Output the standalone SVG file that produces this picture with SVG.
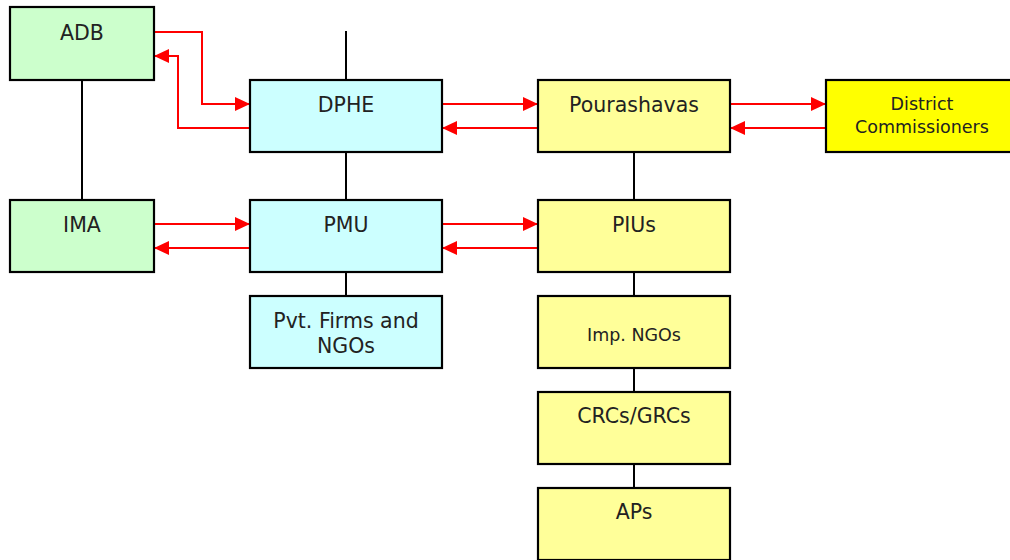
<svg xmlns="http://www.w3.org/2000/svg" width="1010" height="560" viewBox="0 0 1010 560">
<style>
.box{stroke:#000;stroke-width:2.2}
.g{fill:#CCFFCC}.c{fill:#CCFFFF}.y{fill:#FFFF99}.yy{fill:#FFFF00}
.t{font-family:"DejaVu Sans","Liberation Sans",sans-serif;font-size:20.5px;fill:#222;text-anchor:middle}
.s{font-size:17.5px}
.m{font-size:17.5px}
.k{stroke:#000;stroke-width:2;fill:none}
.r{stroke:#FF0000;stroke-width:2;fill:none;marker-end:url(#ah)}
</style>
<defs>
<marker id="ah" markerWidth="15" markerHeight="14" refX="15" refY="7" orient="auto" markerUnits="userSpaceOnUse">
<path d="M0,0 L15,7 L0,14 Z" fill="#FF0000"/>
</marker>
</defs>
<g id="connectors">
<path class="k" d="M346,31 V80"/>
<path class="k" d="M82,80 V200"/>
<path class="k" d="M346,152 V200"/>
<path class="k" d="M346,272 V296"/>
<path class="k" d="M634,152 V200"/>
<path class="k" d="M634,272 V296"/>
<path class="k" d="M634,368 V392"/>
<path class="k" d="M634,464 V488"/>
<path class="r" d="M154,32 H202 V104 H250"/>
<path class="r" d="M250,128 H178 V56 H154"/>
<path class="r" d="M442,104 H538"/>
<path class="r" d="M538,128 H442"/>
<path class="r" d="M730,104 H826"/>
<path class="r" d="M826,128 H730"/>
<path class="r" d="M154,224 H250"/>
<path class="r" d="M250,248 H154"/>
<path class="r" d="M442,224 H538"/>
<path class="r" d="M538,248 H442"/>
</g>
<g id="adb"><rect class="box g" x="10" y="7" width="144" height="73"/><text class="t" x="82" y="40">ADB</text></g>
<g id="dphe"><rect class="box c" x="250" y="80" width="192" height="72"/><text class="t" x="346" y="112">DPHE</text></g>
<g id="pourashavas"><rect class="box y" x="538" y="80" width="192" height="72"/><text class="t" x="634" y="112">Pourashavas</text></g>
<g id="district"><rect class="box yy" x="826" y="80" width="190" height="72"/><text class="t s" x="922" y="110">District</text><text class="t s" x="922" y="133">Commissioners</text></g>
<g id="ima"><rect class="box g" x="10" y="200" width="144" height="72"/><text class="t" x="82" y="232">IMA</text></g>
<g id="pmu"><rect class="box c" x="250" y="200" width="192" height="72"/><text class="t" x="346" y="232">PMU</text></g>
<g id="pius"><rect class="box y" x="538" y="200" width="192" height="72"/><text class="t" x="634" y="232">PIUs</text></g>
<g id="pvt"><rect class="box c" x="250" y="296" width="192" height="72"/><text class="t" x="346" y="328">Pvt. Firms and</text><text class="t" x="346" y="353">NGOs</text></g>
<g id="impngos"><rect class="box y" x="538" y="296" width="192" height="72"/><text class="t m" x="634" y="341">Imp. NGOs</text></g>
<g id="crcs"><rect class="box y" x="538" y="392" width="192" height="72"/><text class="t" x="634" y="423">CRCs/GRCs</text></g>
<g id="aps"><rect class="box y" x="538" y="488" width="192" height="72"/><text class="t" x="634" y="519">APs</text></g>
</svg>
